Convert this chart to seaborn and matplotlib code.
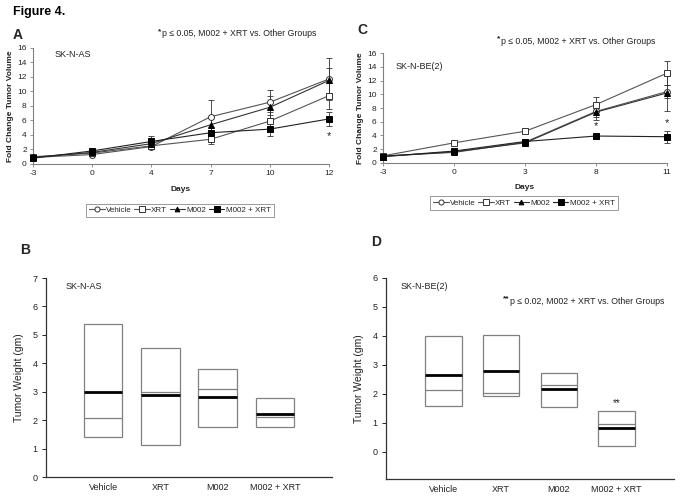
import matplotlib
matplotlib.use("Agg")
import matplotlib.pyplot as plt
from matplotlib.lines import Line2D
import seaborn as sns
import pandas as pd
import numpy as np

sns.set_theme(style="white")
plt.rcParams['font.family'] = ['Liberation Sans', 'DejaVu Sans']

# ---------------- Data ----------------
groups = ["Vehicle", "XRT", "M002", "M002 + XRT"]

# Panel A: SK-N-AS fold change tumor volume
days_a = ["-3", "0", "4", "7", "10", "12"]
a_vehicle = [0.9, 1.3, 2.4, 6.5, 8.5, 11.7]
a_xrt = [1.0, 1.5, 2.5, 3.4, 5.9, 9.4]
a_m002 = [0.9, 1.6, 2.8, 5.4, 7.8, 11.5]
a_combo = [0.8, 1.8, 3.1, 4.3, 4.8, 6.2]
a_vehicle_err = [0.1, 0.2, 0.4, 2.3, 1.7, 2.9]
a_xrt_err = [0.1, 0.2, 0.4, 0.6, 1.2, 1.8]
a_m002_err = [0.1, 0.2, 0.6, 1.0, 1.5, 1.7]
a_combo_err = [0.1, 0.2, 0.7, 0.8, 1.0, 1.0]

# Panel C: SK-N-BE(2) fold change tumor volume
days_c = ["-3", "0", "3", "8", "11"]
c_vehicle = [1.0, 1.5, 3.0, 7.5, 10.4]
c_xrt = [1.0, 2.9, 4.6, 8.5, 13.1]
c_m002 = [0.9, 1.6, 2.9, 7.4, 10.2]
c_combo = [0.9, 1.7, 3.1, 3.9, 3.8]
c_vehicle_err = [0.1, 0.2, 0.3, 0.8, 1.0]
c_xrt_err = [0.1, 0.2, 0.3, 1.1, 1.8]
c_m002_err = [0.1, 0.2, 0.4, 1.2, 2.7]
c_combo_err = [0.1, 0.2, 0.3, 0.5, 0.9]

# Panel B: SK-N-AS tumor weight (gm)
b_max = [5.37, 4.53, 3.80, 2.77]
b_min = [1.42, 1.14, 1.75, 1.76]
b_mean = [2.10, 2.98, 3.10, 2.12]
b_median = [2.98, 2.88, 2.83, 2.23]

# Panel D: SK-N-BE(2) tumor weight (gm)
d_max = [4.00, 4.02, 2.71, 1.42]
d_min = [1.59, 1.93, 1.55, 0.19]
d_mean = [2.14, 2.03, 2.31, 0.94]
d_median = [2.66, 2.80, 2.16, 0.83]

W, H = 683, 498
fig = plt.figure(figsize=(W / 100, H / 100), dpi=100)


def axrect(l, r, t, b):
    return [l / W, 1 - b / H, (r - l) / W, (b - t) / H]


GREY = "#808080"
TXT = "#222222"

series_style = {
    "Vehicle": dict(marker="o", mfc="white", mec="#333333", ms=4.3, color="#555555"),
    "XRT": dict(marker="s", mfc="white", mec="#333333", ms=4.3, color="#555555"),
    "M002": dict(marker="^", mfc="black", mec="black", ms=4.0, color="#333333"),
    "M002 + XRT": dict(marker="s", mfc="black", mec="black", ms=5.0, color="#222222"),
}


def line_panel(ax, days, vals, errs, ylabel_text):
    rows = []
    for g, v, e in zip(groups, vals, errs):
        for i, (d, y, err) in enumerate(zip(days, v, e)):
            rows.append(dict(pos=i, day=d, value=y, err=err, group=g))
    df = pd.DataFrame(rows)
    for g in groups:
        sub = df[df.group == g]
        st = series_style[g]
        eb = ax.errorbar(sub.pos, sub.value, yerr=sub.err, fmt="none", ecolor="#333333",
                         elinewidth=0.6, capsize=2.2, capthick=0.6, zorder=2)
        for art in eb.get_children():
            art.set_clip_on(False)
        sns.lineplot(data=sub, x="pos", y="value", ax=ax, color=st["color"],
                     linewidth=0.8, marker=st["marker"], markersize=st["ms"],
                     markerfacecolor=st["mfc"], markeredgecolor=st["mec"],
                     markeredgewidth=0.7, zorder=3, legend=False, clip_on=False)
    ax.set_xlim(0, len(days) - 1)
    ax.set_ylim(0, 16)
    ax.set_yticks(range(0, 17, 2))
    ax.set_xticks(range(len(days)))
    ax.set_xticklabels(days)
    ax.set_xlabel("Days", fontsize=6, fontweight="bold", color=TXT, labelpad=6)
    ax.set_ylabel(ylabel_text, fontsize=6, fontweight="bold", color=TXT, labelpad=2)
    for s in ["top", "right"]:
        ax.spines[s].set_visible(False)
    for s in ["left", "bottom"]:
        ax.spines[s].set_color(GREY)
        ax.spines[s].set_linewidth(0.8)
    ax.tick_params(axis="both", labelsize=6, colors=TXT, length=2.5, width=0.6,
                   direction="out", bottom=True, left=True, pad=2)
    ax.tick_params(axis="both", color=GREY)
    ax.patch.set_alpha(0)
    ax.margins(0)


def box_panel(ax, vmax, vmin, vmean, vmed, ylim, yticks, width):
    df = pd.DataFrame(dict(group=groups, vmax=vmax, vmin=vmin, mean=vmean, med=vmed))
    df["span"] = df.vmax - df.vmin
    sns.barplot(data=df, x="group", y="span", order=groups, bottom=df.vmin.values,
                ax=ax, fill=False, color=GREY, edgecolor=GREY, linewidth=0.9,
                width=width, errorbar=None)
    pos = np.arange(len(groups))
    ax.hlines(df["mean"], pos - width / 2, pos + width / 2, color=GREY, lw=0.9, zorder=4)
    ax.hlines(df["med"], pos - width / 2, pos + width / 2, color="black", lw=2.0, zorder=5)
    ax.set_xlim(-1, 4)
    ax.set_ylim(*ylim)
    ax.set_yticks(yticks)
    ax.set_xlabel("")
    ax.set_ylabel("Tumor Weight (gm)", fontsize=7.5, color=TXT, labelpad=6)
    for s in ["top", "right"]:
        ax.spines[s].set_visible(False)
    for s in ["left", "bottom"]:
        ax.spines[s].set_color("#333333")
        ax.spines[s].set_linewidth(0.9)
    ax.tick_params(axis="y", labelsize=6.5, colors=TXT, length=3, width=0.7,
                   direction="out", left=True, pad=3)
    ax.tick_params(axis="x", labelsize=6.5, colors=TXT, length=0, pad=4)
    ax.patch.set_alpha(0)


# Panel A
axA = fig.add_axes(axrect(33, 329, 47.7, 164))
line_panel(axA, days_a, [a_vehicle, a_xrt, a_m002, a_combo],
           [a_vehicle_err, a_xrt_err, a_m002_err, a_combo_err], "Fold Change Tumor Volume")
axA.text(5, a_combo[5] - 2.3, "*", ha="center", va="center", fontsize=8, color=TXT)
axA.text(0.37, 15.0, "SK-N-AS", fontsize=6.5, color=TXT, va="center")

# Panel C
axC = fig.add_axes(axrect(383, 667, 53.3, 162.7))
line_panel(axC, days_c, [c_vehicle, c_xrt, c_m002, c_combo],
           [c_vehicle_err, c_xrt_err, c_m002_err, c_combo_err], "Fold Change Tumor Volume")
axC.text(3, c_combo[3] + 1.5, "*", ha="center", va="center", fontsize=8, color=TXT)
axC.text(4, c_combo[4] + 2.0, "*", ha="center", va="center", fontsize=8, color=TXT)
axC.text(0.17, 14.1, "SK-N-BE(2)", fontsize=6.5, color=TXT, va="center")

# Legends
handles = [Line2D([0], [0], color=series_style[g]["color"], lw=0.8,
                  marker=series_style[g]["marker"], markersize=series_style[g]["ms"] * 0.85,
                  markerfacecolor=series_style[g]["mfc"], markeredgecolor=series_style[g]["mec"],
                  markeredgewidth=0.7) for g in groups]
for (l, r, t, b) in [(87, 273, 205, 216), (435, 613, 198, 208)]:
    leg = fig.legend(handles, groups, loc="center",
                     bbox_to_anchor=((l + r) / 2 / W, 1 - (t + b) / 2 / H),
                     ncol=4, fontsize=5.8, frameon=True, fancybox=False,
                     handlelength=1.9, handletextpad=0.2, columnspacing=0.3,
                     borderpad=0.35, borderaxespad=0)
    leg.get_frame().set_edgecolor(GREY)
    leg.get_frame().set_linewidth(0.7)

# Panel B
axB = fig.add_axes(axrect(46, 332, 278, 477.3))
box_panel(axB, b_max, b_min, b_mean, b_median, (0, 7), range(0, 8), 0.67)
axB.text(-0.65, 6.69, "SK-N-AS", fontsize=6.5, color=TXT, va="center")

# Panel D
axD = fig.add_axes(axrect(386, 674, 277.7, 479))
box_panel(axD, d_max, d_min, d_mean, d_median, (-0.94, 6), range(0, 7), 0.63)
axD.text(-0.74, 5.71, "SK-N-BE(2)", fontsize=6.5, color=TXT, va="center")
axD.text(3, d_max[3] + 0.25, "**", ha="center", va="center", fontsize=7, color=TXT)

# Figure texts
fig.text(13 / W, 1 - 12.5 / H, "Figure 4.", fontsize=9, fontweight="bold", va="center", color="black")
fig.text(13 / W, 1 - 35 / H, "A", fontsize=10, fontweight="bold", va="center")
fig.text(357 / W, 1 - 30 / H, "C", fontsize=10, fontweight="bold", va="center")
fig.text(20 / W, 1 - 250 / H, "B", fontsize=10, fontweight="bold", va="center")
fig.text(371 / W, 1 - 242 / H, "D", fontsize=10, fontweight="bold", va="center")


def note(x, y, stars, body):
    fig.text(x / W, 1 - (y - 2.5) / H, stars, fontsize=6, va="center", ha="left",
             color=TXT, fontweight="bold")
    fig.text((x + 3.0 * len(stars) + 0.6) / W, 1 - y / H, body, fontsize=6.3, va="center",
             ha="left", color=TXT)


note(158, 34, "*", "p ≤ 0.05, M002 + XRT vs. Other Groups")
note(497, 41, "*", "p ≤ 0.05, M002 + XRT vs. Other Groups")
note(503, 301.5, "**", "p ≤ 0.02, M002 + XRT vs. Other Groups")

fig.savefig("out.png", dpi=100)
